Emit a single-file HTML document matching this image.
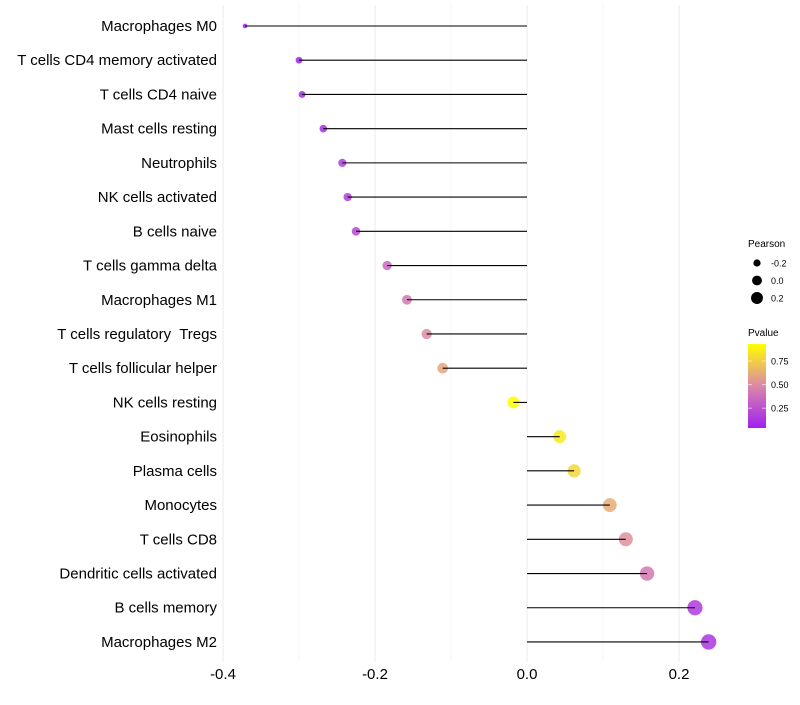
<!DOCTYPE html>
<html><head><meta charset="utf-8"><style>
body{margin:0;background:#fff;font-family:"Liberation Sans",sans-serif}
text{white-space:pre}
</style></head><body>
<svg id="chart" width="800" height="700" xmlns="http://www.w3.org/2000/svg"></svg>
<script>
const categories=["Macrophages M0","T cells CD4 memory activated","T cells CD4 naive","Mast cells resting","Neutrophils","NK cells activated","B cells naive","T cells gamma delta","Macrophages M1","T cells regulatory  Tregs","T cells follicular helper","NK cells resting","Eosinophils","Plasma cells","Monocytes","T cells CD8","Dendritic cells activated","B cells memory","Macrophages M2"];
const pearson=[-0.371,-0.300,-0.296,-0.268,-0.243,-0.236,-0.225,-0.184,-0.158,-0.132,-0.111,-0.018,0.043,0.062,0.109,0.130,0.158,0.221,0.239];
const pvalues=[0.04,0.06,0.07,0.1,0.15,0.17,0.2,0.35,0.42,0.5,0.6,0.93,0.85,0.78,0.62,0.52,0.42,0.15,0.13];
const xTicks=[-0.4,-0.2,0.0,0.2];
const xTickLabels=["-0.4","-0.2","0.0","0.2"];
const sizeLegend=[-0.2,0.0,0.2];
const pLegend=[0.25,0.5,0.75];

const NS="http://www.w3.org/2000/svg";
const svg=document.getElementById('chart');
function el(t,a,p){const e=document.createElementNS(NS,t);for(const k in a)e.setAttribute(k,a[k]);(p||svg).appendChild(e);return e;}
const x=v=>527+(v)*760;
const y=i=>26+i*34.22;
const rScale=v=>Math.sqrt(Math.max(3,38+88*v));
const pMin=0.04,pMax=0.93;
function lerp(a,b,t){return a.map((c,i)=>Math.round(c+(b[i]-c)*t));}
function pColor(p){const t=Math.min(1,Math.max(0,(p-pMin)/(pMax-pMin)));const A=[160,32,240],M=[219,136,168],B=[255,255,0];const c=t<0.5?lerp(A,M,t*2):lerp(M,B,(t-0.5)*2);return `rgb(${c[0]},${c[1]},${c[2]})`;}

[-0.3,-0.1,0.1].forEach(v=>{const g=el('line',{x1:x(v),x2:x(v),y1:5,y2:662,stroke:'#f6f6f6','stroke-width':1});

});
xTicks.forEach((v,i)=>{const g=el('line',{x1:x(v),x2:x(v),y1:5,y2:662,stroke:'#ebebeb','stroke-width':1});


const t=el('text',{x:x(v),y:679,'text-anchor':'middle','font-size':15,fill:'#000'});t.textContent=xTickLabels[i];

});

categories.forEach((c,i)=>{
 const t=el('text',{x:217,y:y(i)+5,'text-anchor':'end','font-size':15,fill:'#000'});t.textContent=c;
 
 
 const pt=el('circle',{cx:x(pearson[i]),cy:y(i),r:rScale(pearson[i]),fill:pColor(pvalues[i]),'fill-opacity':0.85});
 
 
 const ln=el('line',{x1:x(0),x2:x(pearson[i]),y1:y(i),y2:y(i),stroke:'#000','stroke-width':1.1});
 
 
});

const lt=el('text',{x:748,y:247,'font-size':10});lt.textContent='Pearson';


sizeLegend.forEach((v,i)=>{const cy=263+i*17.5;
 const c=el('circle',{cx:757,cy:cy,r:rScale(v)*0.8,fill:'#000'});
 
 
 const t=el('text',{x:771,y:cy+3.5,'font-size':9});t.textContent=v.toFixed(1);
 
 });
const pt=el('text',{x:748,y:336,'font-size':10});pt.textContent='Pvalue';


const defs=el('defs',{});const gr=el('linearGradient',{id:'pg',x1:0,y1:1,x2:0,y2:0},defs);
for(let k=0;k<=10;k++){el('stop',{offset:k/10,'stop-color':pColor(pMin+(pMax-pMin)*k/10)},gr);}
const bar=el('rect',{x:748,y:344,width:18,height:84,fill:'url(#pg)'});


const py=p=>428-(p-pMin)/(pMax-pMin)*84;
pLegend.forEach(p=>{el('line',{x1:748,x2:752,y1:py(p),y2:py(p),stroke:'#fff','stroke-opacity':0.6});el('line',{x1:762,x2:766,y1:py(p),y2:py(p),stroke:'#fff','stroke-opacity':0.6});
 const t=el('text',{x:771,y:py(p)+3.5,'font-size':9});t.textContent=p.toFixed(2);
 
 });
</script>
</body></html>
